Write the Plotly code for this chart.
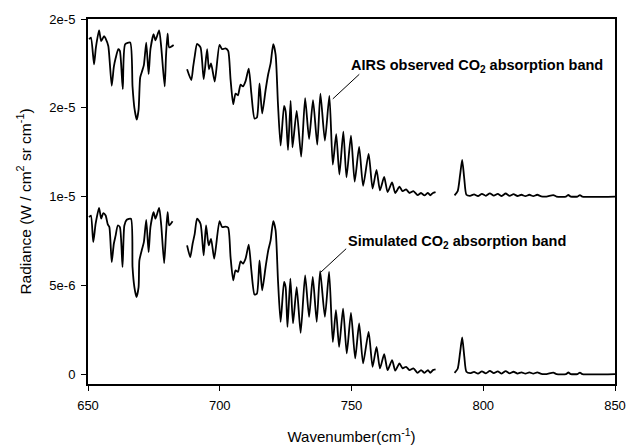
import plotly.graph_objects as go

# ---------------- data ----------------
# Simulated CO2 absorption band (W / cm^2 sr cm^-1), None = gap in spectrum
sim_wn = [650.4, 651.1, 652.0, 652.9, 654.2, 655.0, 655.8, 656.7, 657.5, 658.1,
          659.0, 659.8, 660.5, 661.3, 662.1, 663.1, 663.8, 664.7, 666.3, 666.9,
          667.6, 668.4, 669.2, 669.5, 670.4, 671.2, 672.1, 673.0, 673.7, 674.9,
          675.6, 677.0, 677.8, 678.9, 679.6, 680.2, 680.8, 682.1,
          685.0,
          687.6, 688.8, 689.7, 690.5, 691.4, 692.7, 693.9, 694.8, 695.8, 696.7,
          697.9, 699.9, 700.9, 702.2, 703.2, 704.1, 705.1, 706.0, 706.9, 707.9,
          708.8, 709.8, 711.0, 712.0, 713.2, 714.1, 715.1, 716.1, 717.4, 718.4,
          719.3, 720.3, 721.2, 722.1, 723.1, 724.4, 725.0, 725.7, 726.8, 727.8,
          729.2, 730.7, 732.4, 733.9, 735.3, 736.8, 738.1, 739.9, 741.5, 742.9,
          744.1, 745.3, 746.8, 748.2, 749.8, 751.4, 752.9, 754.4, 756.5, 758.0,
          759.5, 760.8, 762.4, 763.7, 765.4, 766.6, 768.2, 769.4, 770.7, 772.0,
          773.5, 775.1, 776.4, 777.7, 779.0, 779.9, 780.9, 781.9,
          785.0,
          789.1, 790.3, 791.2, 792.0, 792.8, 793.6, 795.0, 796.5, 798.0, 799.5,
          801.0, 802.5, 804.0, 805.5, 807.0, 808.5, 810.0, 811.5, 813.0, 814.5,
          816.0, 817.5, 819.0, 820.5, 822.0, 824.0, 826.6, 827.8, 831.4, 832.3,
          833.2, 835.8, 836.7, 837.6, 850.0]
sim_rad = [8.84e-6, 8.93e-6, 7.43e-6, 8.47e-6, 9.36e-6, 8.75e-6, 9.06e-6, 8.93e-6, 8.43e-6, 8.28e-6,
           6.31e-6, 7.34e-6, 7.81e-6, 8.37e-6, 8.28e-6, 6.03e-6, 8.37e-6, 8.69e-6, 8.75e-6, 6.03e-6,
           4.90e-6, 4.34e-6, 4.90e-6, 6.40e-6, 6.97e-6, 7.43e-6, 8.69e-6, 6.87e-6, 8.28e-6, 9.12e-6,
           8.75e-6, 9.36e-6, 8.37e-6, 6.25e-6, 7.90e-6, 9.12e-6, 8.37e-6, 8.61e-6,
           None,
           7.25e-6, 6.59e-6, 7.34e-6, 7.90e-6, 8.75e-6, 8.47e-6, 6.69e-6, 8.37e-6, 7.25e-6, 7.62e-6,
           6.50e-6, 8.61e-6, 8.28e-6, 8.31e-6, 8.24e-6, 6.59e-6, 5.28e-6, 5.84e-6, 5.75e-6, 6.35e-6,
           6.22e-6, 6.50e-6, 7.29e-6, 5.84e-6, 4.48e-6, 4.53e-6, 6.40e-6, 4.72e-6, 6.03e-6, 6.97e-6,
           7.53e-6, 8.61e-6, 8.09e-6, 5.28e-6, 2.94e-6, 5.19e-6, 4.90e-6, 2.66e-6, 5.38e-6, 2.85e-6,
           4.90e-6, 2.32e-6, 5.56e-6, 3.22e-6, 5.47e-6, 2.94e-6, 5.80e-6, 3.22e-6, 5.75e-6, 1.81e-6,
           3.60e-6, 1.53e-6, 3.69e-6, 1.16e-6, 3.44e-6, 0.88e-6, 2.85e-6, 0.60e-6, 2.38e-6, 0.41e-6,
           1.53e-6, 0.32e-6, 1.12e-6, 0.22e-6, 0.79e-6, 0.19e-6, 0.60e-6, 0.32e-6, 0.41e-6, 0.22e-6,
           0.32e-6, 0.07e-6, 0.22e-6, 0.07e-6, 0.22e-6, 0.07e-6, 0.22e-6, 0.26e-6,
           None,
           0.07e-6, 0.30e-6, 1.20e-6, 2.06e-6, 1.00e-6, 0.13e-6, 0.05e-6, 0.12e-6, 0.03e-6, 0.15e-6,
           0.04e-6, 0.18e-6, 0.05e-6, 0.15e-6, 0.03e-6, 0.17e-6, 0.04e-6, 0.13e-6, 0.03e-6, 0.10e-6,
           0.02e-6, 0.10e-6, 0.02e-6, 0.10e-6, 0.01e-6, 0.00e-6, 0.08e-6, 0.00e-6, 0.00e-6, 0.09e-6,
           0.00e-6, 0.00e-6, 0.08e-6, 0.00e-6, 0.00e-6]

# AIRS observed CO2 absorption band (plotted values, upper curve)
obs_wn = [650.4, 651.1, 652.3, 653.0, 654.2, 655.0, 656.1, 656.7, 657.7, 659.0,
          659.8, 660.5, 661.5, 662.1, 663.2, 664.1, 666.0, 666.9, 667.6, 668.5,
          669.2, 669.8, 670.4, 671.2, 672.1, 673.0, 673.7, 674.9, 675.6, 677.0,
          677.8, 679.1, 679.6, 680.2, 680.8, 682.5,
          685.0,
          687.6, 689.2, 689.9, 690.5, 691.4, 692.7, 693.9, 695.2, 695.9, 696.7,
          698.1, 699.9, 700.9, 702.2, 703.2, 704.1, 705.1, 706.0, 706.9, 707.9,
          708.8, 709.8, 711.0, 712.0, 713.2, 714.1, 715.1, 716.1, 717.4, 718.4,
          719.3, 720.3, 721.2, 722.1, 723.1, 724.4, 725.0, 725.9, 726.9, 727.6,
          729.2, 730.9, 732.4, 733.9, 735.4, 737.0, 738.2, 739.9, 741.6, 742.9,
          744.2, 745.4, 746.9, 748.1, 749.8, 751.2, 752.9, 754.4, 756.5, 758.0,
          759.5, 760.8, 762.4, 763.7, 765.4, 766.6, 768.2, 769.4, 770.7, 772.0,
          773.5, 775.1, 776.4, 777.7, 779.0, 779.9, 780.9, 781.9,
          785.0,
          789.1, 790.3, 791.2, 792.0, 792.8, 793.6, 795.0, 796.5, 798.0, 799.5,
          801.0, 802.5, 804.0, 805.5, 807.0, 808.5, 810.0, 811.5, 813.0, 814.5,
          816.0, 817.5, 819.0, 820.5, 822.0, 824.0, 826.6, 827.8, 831.4, 832.3,
          833.2, 835.8, 836.7, 837.6, 850.0]
obs_rad = [18.86e-6, 18.95e-6, 17.45e-6, 18.40e-6, 19.36e-6, 18.76e-6, 19.04e-6, 18.90e-6, 18.48e-6, 16.24e-6,
           17.30e-6, 17.80e-6, 18.30e-6, 18.20e-6, 16.05e-6, 18.58e-6, 18.67e-6, 16.20e-6, 15.00e-6, 14.33e-6,
           14.90e-6, 16.70e-6, 17.00e-6, 17.40e-6, 18.67e-6, 16.89e-6, 18.30e-6, 19.14e-6, 18.80e-6, 19.36e-6,
           18.40e-6, 16.20e-6, 17.90e-6, 19.18e-6, 18.40e-6, 18.54e-6,
           None,
           17.17e-6, 16.56e-6, 17.30e-6, 17.90e-6, 18.60e-6, 18.40e-6, 16.61e-6, 18.30e-6, 17.17e-6, 17.50e-6,
           16.48e-6, 18.54e-6, 18.30e-6, 18.35e-6, 18.20e-6, 16.60e-6, 15.20e-6, 15.80e-6, 15.70e-6, 16.30e-6,
           16.20e-6, 16.50e-6, 17.20e-6, 15.80e-6, 14.40e-6, 14.45e-6, 16.37e-6, 14.68e-6, 16.00e-6, 16.90e-6,
           17.50e-6, 18.58e-6, 18.00e-6, 15.20e-6, 12.87e-6, 15.11e-6, 14.80e-6, 12.62e-6, 15.39e-6, 12.77e-6,
           14.83e-6, 12.25e-6, 15.54e-6, 13.24e-6, 15.43e-6, 12.92e-6, 15.80e-6, 13.15e-6, 15.67e-6, 11.80e-6,
           13.52e-6, 11.24e-6, 13.65e-6, 11.08e-6, 13.43e-6, 10.84e-6, 12.80e-6, 10.60e-6, 12.40e-6, 10.45e-6,
           11.50e-6, 10.35e-6, 11.10e-6, 10.25e-6, 10.80e-6, 10.20e-6, 10.55e-6, 10.30e-6, 10.40e-6, 10.20e-6,
           10.30e-6, 10.08e-6, 10.20e-6, 10.06e-6, 10.20e-6, 10.07e-6, 10.20e-6, 10.25e-6,
           None,
           10.06e-6, 10.30e-6, 11.20e-6, 12.06e-6, 11.00e-6, 10.10e-6, 10.04e-6, 10.12e-6, 10.03e-6, 10.15e-6,
           10.04e-6, 10.18e-6, 10.05e-6, 10.15e-6, 10.03e-6, 10.17e-6, 10.04e-6, 10.13e-6, 10.03e-6, 10.10e-6,
           10.02e-6, 10.10e-6, 10.02e-6, 10.10e-6, 10.01e-6, 10.00e-6, 10.08e-6, 10.00e-6, 10.00e-6, 10.09e-6,
           10.00e-6, 10.00e-6, 10.08e-6, 10.00e-6, 10.00e-6]

x_ticks = [650, 700, 750, 800, 850]
y_tick_vals = [0, 5e-6, 1e-5, 1.5e-5, 2e-5]
y_tick_text = ["0", "5e-6", "1e-5", "2e-5", "2e-5"]

# ---------------- figure ----------------
FONT = "Liberation Sans, Arial, sans-serif"
LINE = dict(color="black", width=1.8, shape="spline", smoothing=0.6)
fig = go.Figure()
fig.add_trace(go.Scatter(x=obs_wn, y=obs_rad, mode="lines", connectgaps=False,
                         line=LINE, showlegend=False))
fig.add_trace(go.Scatter(x=sim_wn, y=sim_rad, mode="lines", connectgaps=False,
                         line=LINE, showlegend=False))

# leader lines
fig.add_annotation(x=742.9, y=15.5e-6, text="", showarrow=True, arrowhead=0,
                   arrowwidth=1, arrowcolor="black", ax=28, ay=-26)
fig.add_annotation(x=738.3, y=5.73e-6, text="", showarrow=True, arrowhead=0,
                   arrowwidth=1, arrowcolor="black", ax=27, ay=-25)
# labels
fig.add_annotation(x=749.0, y=17.36e-6, text="<b>AIRS observed CO<sub>2</sub> absorption band</b>",
                   showarrow=False, xanchor="left", yanchor="middle",
                   font=dict(family=FONT, size=14.5, color="black"))
fig.add_annotation(x=747.9, y=7.42e-6, text="<b>Simulated CO<sub>2</sub> absorption band</b>",
                   showarrow=False, xanchor="left", yanchor="middle",
                   font=dict(family=FONT, size=14.5, color="black"))

fig.update_layout(
    width=627, height=446,
    margin=dict(l=88, r=12, t=19, b=62),
    paper_bgcolor="white", plot_bgcolor="white",
    font=dict(family=FONT, size=13, color="black"),
)
fig.update_xaxes(range=[650, 850], tickvals=x_ticks, ticks="outside", ticklen=5,
                 tickcolor="black", showline=True, linecolor="black", linewidth=2,
                 mirror=True, showgrid=False, zeroline=False, automargin=False,
                 tickfont=dict(size=13), ticklabelstandoff=3,
                 title=dict(text="Wavenumber(cm<sup>-1</sup>)", font=dict(size=15), standoff=20))
fig.update_yaxes(range=[-0.56e-6, 2e-5], tickvals=y_tick_vals, ticktext=y_tick_text,
                 ticks="outside", ticklen=5, tickcolor="black",
                 showline=True, linecolor="black", linewidth=2, mirror=True,
                 showgrid=False, zeroline=False, automargin=False, tickfont=dict(size=13),
                 ticklabelstandoff=3,
                 title=dict(text="Radiance (W / cm<sup>2</sup> sr cm<sup>-1</sup>)",
                            font=dict(size=15.5), standoff=14))

fig.write_html("out.html", config={"displayModeBar": False},
               post_script="document.body.style.margin='0';document.body.style.overflow='hidden';")
